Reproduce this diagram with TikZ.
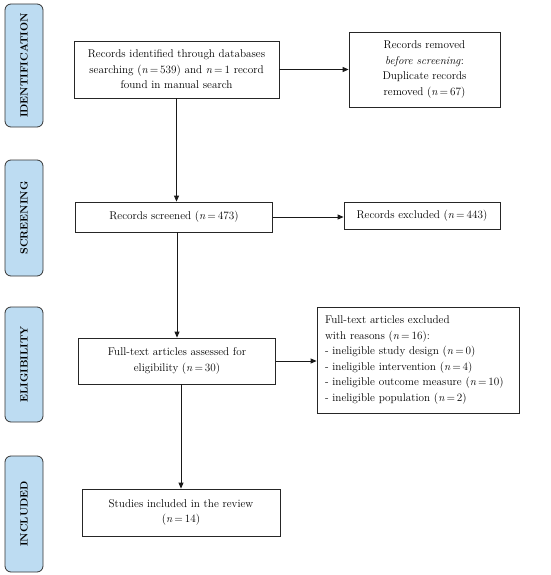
\documentclass[tikz,border=0pt]{standalone}
\usepackage{xcolor}
\usetikzlibrary{arrows.meta,positioning}
\definecolor{stagefill}{RGB}{189,220,242}
\tikzset{
	stage/.style={draw=black!80, fill=stagefill, rounded corners=6pt, line width=0.8pt,
			minimum height=38pt, rotate=90, font=\fontsize{10.5}{12}\selectfont\bfseries, inner sep=0pt},
	recbox/.style={draw=black!85, line width=0.8pt, align=center, font=\fontsize{11.2}{15.5}\selectfont,
			inner sep=0pt},
	flow/.style={->, line width=0.8pt, black!90}
}
\newcommand{\nn}{\textit{n}\,=\,}

\begin{document}
\begin{tikzpicture}[x=1pt, y=-1pt, >={Triangle[length=6pt,width=5pt]}]
		\useasboundingbox (0,0) rectangle (550,575);

		% Stages
		\node[stage, minimum width=123pt] (ident) at (24,65.5) {IDENTIFICATION};
		\node[stage, minimum width=116pt] (screen) at (24,218) {SCREENING};
		\node[stage, minimum width=115pt] (elig) at (24,364.5) {ELIGIBILITY};
		\node[stage, minimum width=116pt] (incl) at (24,514) {INCLUDED};

		% Records
		\node[recbox, minimum width=205pt, minimum height=57pt] (found) at (176.5,69.5)
			{Records identified through databases\\ searching (\nn 539) and \nn 1 record\\ found in manual search};
		\node[recbox, minimum width=151pt, minimum height=75pt] (dupl) at (424.5,69.5)
			{Records removed\\ \textit{before screening}:\\ Duplicate records\\ removed (\nn 67)};
		\node[recbox, minimum width=197pt, minimum height=30pt] (screened) at (174,217)
			{Records screened (\nn 473)};
		\node[recbox, minimum width=156pt, minimum height=27pt] (excl) at (422,215.5)
			{Records excluded (\nn 443)};
		\node[recbox, minimum width=197pt, minimum height=46pt] (full) at (177,361)
			{Full-text articles assessed for\\ eligibility (\nn 30)};
		\node[recbox, align=left, minimum width=202pt, minimum height=106pt, text width=186pt, inner xsep=8pt] (reasons) at (418,360)
			{Full-text articles excluded\\ with reasons (\nn 16):\\ - ineligible study design (\nn 0)\\ - ineligible intervention (\nn 4)\\ - ineligible outcome measure (\nn 10)\\ - ineligible population (\nn 2)};
		\node[recbox, minimum width=198pt, minimum height=47pt] (studies) at (181,512.5)
			{Studies included in the review\\ (\nn 14)};

		% Arrows
		\draw[flow] (found.east) -- (found.east -| dupl.west);
		\draw[flow] (screened.east) -- (screened.east -| excl.west);
		\draw[flow] (full.east) -- (full.east -| reasons.west);
		\draw[flow] (found.south) -- (found.south |- screened.north);
		\draw[flow] (full.north |- screened.south) -- (full.north);
		\draw[flow] (studies.north |- full.south) -- (studies.north);
	\end{tikzpicture}
\end{document}
